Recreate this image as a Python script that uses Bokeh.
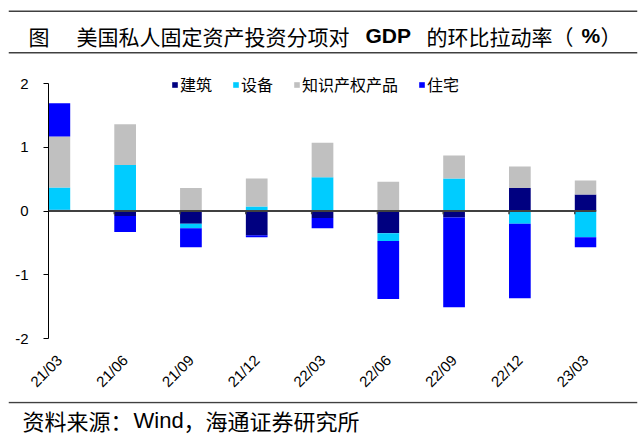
import math
import numpy as np
from bokeh.plotting import figure
from bokeh.layouts import column
from bokeh.models import (Range1d, FixedTicker, Span, Label, Legend, LegendItem)
from bokeh.embed import file_html
from bokeh.resources import INLINE

# ---- data ----
categories = ["21/03", "21/06", "21/09", "21/12", "22/03", "22/06", "22/09", "22/12", "23/03"]
construction = [0.02, -0.08, -0.20, -0.38, -0.11, -0.35, -0.10, 0.36, 0.26]
equipment = [0.35, 0.72, -0.07, 0.07, 0.53, -0.12, 0.51, -0.20, -0.41]
ip_products = [0.80, 0.64, 0.36, 0.44, 0.54, 0.46, 0.36, 0.34, 0.22]
residential = [0.52, -0.25, -0.30, -0.03, -0.16, -0.91, -1.41, -1.17, -0.16]
series_names = ["建筑", "设备", "知识产权产品", "住宅"]
y_ticks = [-2, -1, 0, 1, 2]
y_tick_labels = ["-2", "-1", "0", "1", "2"]

title_mark = "图"
title_part1 = "美国私人固定资产投资分项对"
title_part2 = "GDP"
title_part3 = "的环比拉动率（"
title_part4 = "%"
title_part5 = "）"
source_part1 = "资料来源："
source_part2 = "Wind"
source_part3 = "，海通证券研究所"

# ---- styling ----
colors = ["#000080", "#00CCFF", "#C0C0C0", "#0000FF"]
RULE = "#404040"
BAR_W = 0.33
CJK = "Noto Sans CJK SC"
LAT = "Liberation Sans"
W = 640
HEAD_H, MAIN_H, FOOT_H = 60, 341, 34

n = len(categories)
x = np.arange(n)


def bare(fig):
    fig.outline_line_color = None
    fig.background_fill_color = "white"
    fig.border_fill_color = "white"
    fig.frame_align = False


def add_text(fig, xp, yp, text, font, size, bold=False):
    fig.add_layout(Label(x=xp, y=yp, text=text, text_font=font, text_font_size=size,
                         text_font_style="bold" if bold else "normal",
                         text_color="black", text_baseline="middle", text_align="left"))


# ================= header =================
head = figure(width=W, height=HEAD_H, output_backend="svg", toolbar_location=None,
              x_axis_type=None, y_axis_type=None, title=None,
              x_range=Range1d(8, 637), y_range=Range1d(HEAD_H, 0),
              min_border_left=8, min_border_right=3, min_border_top=0, min_border_bottom=0)
bare(head)
head.add_layout(Span(location=10.7, dimension="width", line_color=RULE, line_width=1.5))
head.add_layout(Span(location=52.3, dimension="width", line_color=RULE, line_width=1.5))

add_text(head, 28, 35, title_mark, CJK, "21px")
add_text(head, 76, 35, title_part1, CJK, "21px")
add_text(head, 365, 35, title_part2, LAT, "21px", bold=True)
add_text(head, 426, 35, title_part3, CJK, "21px")
add_text(head, 581, 35, title_part4, LAT, "21px", bold=True)
add_text(head, 600, 35, title_part5, CJK, "21px")

# ================= main chart =================
PX_PER_UNIT = 255 / 4.0
TOP_PAD = 11  # px of frame above the "2" gridline (room for legend)
p = figure(width=W, height=MAIN_H, output_backend="svg", toolbar_location=None,
           x_range=Range1d(-BAR_W / 2, n - 1 + BAR_W / 2),
           y_range=Range1d(-2, 2 + TOP_PAD / PX_PER_UNIT),
           min_border_left=48, min_border_right=44, min_border_top=12,
           min_border_bottom=63)
bare(p)
p.xgrid.visible = False
p.ygrid.visible = False

# stacked bars: positives stack up, negatives stack down, in series order
pos = np.zeros(n)
neg = np.zeros(n)
renderers = []
for name, vals, col in zip(series_names,
                           [construction, equipment, ip_products, residential],
                           colors):
    v = np.array(vals, dtype=float)
    bottom = np.where(v >= 0, pos, neg)
    top = bottom + v
    pos = np.where(v >= 0, top, pos)
    neg = np.where(v < 0, top, neg)
    r = p.vbar(x=x, bottom=bottom, top=top, width=BAR_W,
               fill_color=col, line_color=None)
    renderers.append((name, r))

# zero line (category axis crossing) and its small tick marks
p.add_layout(Span(location=0, dimension="width", line_color=RULE, line_width=2))
p.segment(x0=x[1:] - BAR_W / 2, y0=0, x1=x[1:] - BAR_W / 2, y1=-0.05,
          line_color=RULE, line_width=1.5)

# y axis
ya = p.yaxis[0]
ya.ticker = FixedTicker(ticks=y_ticks)
ya.major_label_overrides = {t: s for t, s in zip(y_ticks, y_tick_labels)}
ya.bounds = (min(y_ticks), max(y_ticks))
ya.axis_line_color = "black"
ya.axis_line_width = 1
ya.major_tick_line_color = "black"
ya.major_tick_out = 5
ya.major_tick_in = 0
ya.minor_tick_line_color = None
ya.major_label_text_font = LAT
ya.major_label_text_font_size = "15px"
ya.major_label_text_color = "black"
ya.major_label_standoff = 15

# x axis (labels only)
xa = p.xaxis[0]
xa.ticker = FixedTicker(ticks=[int(i) for i in x])
xa.major_label_overrides = {int(i): c for i, c in zip(x, categories)}
xa.major_label_orientation = math.pi / 4
xa.axis_line_color = None
xa.major_tick_line_color = None
xa.minor_tick_line_color = None
xa.major_tick_out = 0
xa.major_label_text_font = LAT
xa.major_label_text_font_size = "15px"
xa.major_label_text_color = "black"
xa.major_label_standoff = 19

# legend (inside the frame, near its top)
legend = Legend(items=[LegendItem(label=nm, renderers=[r]) for nm, r in renderers],
                orientation="horizontal", location=(123, 242),
                padding=0, margin=0, spacing=20, label_standoff=2,
                glyph_width=7, glyph_height=7, label_height=16,
                border_line_color=None, background_fill_alpha=0,
                label_text_font=CJK, label_text_font_size="16px",
                label_text_color="black")
p.add_layout(legend)

# ================= footer =================
foot = figure(width=W, height=FOOT_H, output_backend="svg", toolbar_location=None,
              x_axis_type=None, y_axis_type=None, title=None,
              x_range=Range1d(8, 637), y_range=Range1d(FOOT_H, 0),
              min_border_left=8, min_border_right=3, min_border_top=0, min_border_bottom=0)
bare(foot)
foot.add_layout(Span(location=0.9, dimension="width", line_color=RULE, line_width=1.5))
add_text(foot, 22, 18.5, source_part1, CJK, "22px")
add_text(foot, 133, 18.5, source_part2, LAT, "22px")
add_text(foot, 183, 18.5, source_part3, CJK, "22px")

layout = column(head, p, foot, spacing=0)
open("out.html", "w").write(file_html(layout, INLINE))
